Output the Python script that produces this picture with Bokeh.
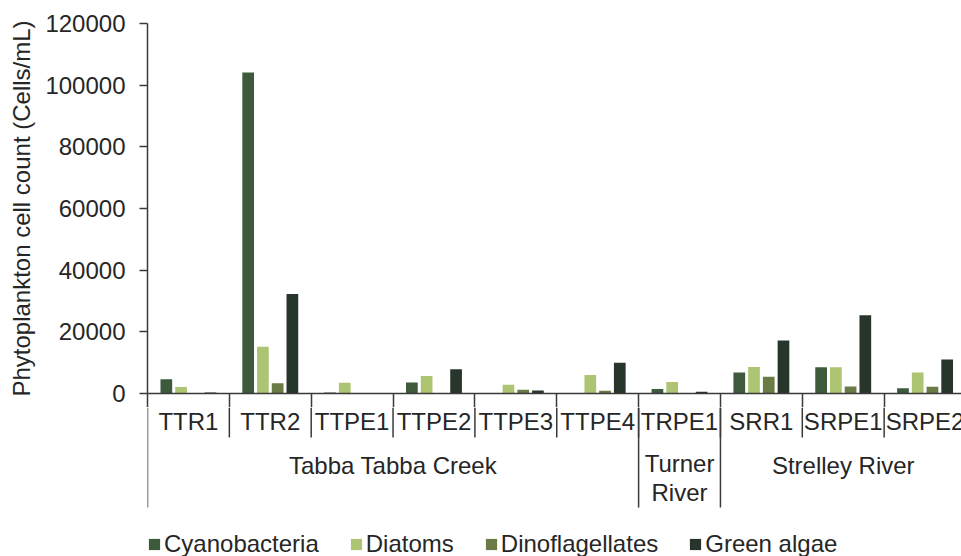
import math
from bokeh.plotting import figure
from bokeh.layouts import column
from bokeh.models import (ColumnDataSource, Range1d, FixedTicker, NumeralTickFormatter,
                          Legend, LegendItem)
from bokeh.transform import dodge
from bokeh.core.properties import value
from bokeh.embed import file_html
from bokeh.resources import INLINE

# ---------------- data ----------------
sites = ["TTR1", "TTR2", "TTPE1", "TTPE2", "TTPE3", "TTPE4", "TRPE1", "SRR1", "SRPE1", "SRPE2"]
rivers = ["Tabba Tabba Creek"] * 6 + ["Turner River"] + ["Strelley River"] * 3
river_display = {"Tabba Tabba Creek": "Tabba Tabba Creek",
                 "Turner River": "Turner\nRiver",
                 "Strelley River": "Strelley River"}
series_names = ["Cyanobacteria", "Diatoms", "Dinoflagellates", "Green algae"]
cyanobacteria = [4600, 104100, 300, 3600, 0, 0, 1500, 6800, 8500, 1700]
diatoms = [2100, 15200, 3500, 5700, 2800, 6000, 3700, 8600, 8500, 6800]
dinoflagellates = [0, 3300, 0, 0, 1200, 900, 0, 5400, 2300, 2200]
green_algae = [300, 32300, 200, 7900, 1000, 10000, 600, 17200, 25400, 11000]
y_ticks = [0, 20000, 40000, 60000, 80000, 100000, 120000]
y_title = "Phytoplankton cell count (Cells/mL)"

# ---------------- style / layout ----------------
colors = ["#3d5a3d", "#adc472", "#6a7b45", "#28352a"]
offsets = [-0.27, -0.09, 0.09, 0.27]
bar_w = 0.143
FONT = "Liberation Sans"
FS = "24px"
TXT = "#262626"
AX = "#3a3a3a"

W = 961
FL = 147            # frame left (px)
CAT = 81.85         # px per category
TOP = 23            # px of 120000
ZERO = 393          # px of 0 (bottom of bar frame)
TICK = 14           # length of the category tick marks below the zero line
SPLIT = ZERO + TICK
H_TOP = SPLIT
H_BOT = 556 - SPLIT
x_end = (W - FL) / CAT
boundaries = list(range(0, len(sites) + 1))

# ---------------- bars panel ----------------
p = figure(width=W, height=H_TOP, output_backend="svg", toolbar_location=None,
           x_range=Range1d(0, x_end), y_range=Range1d(0, 120000),
           min_border_left=FL, min_border_right=0,
           min_border_top=TOP, min_border_bottom=TICK)
p.outline_line_color = None
p.xgrid.visible = False
p.ygrid.visible = False

src = ColumnDataSource(dict(x=[i + 0.5 for i in range(len(sites))],
                            cyanobacteria=cyanobacteria, diatoms=diatoms,
                            dinoflagellates=dinoflagellates, green_algae=green_algae))
cols = ["cyanobacteria", "diatoms", "dinoflagellates", "green_algae"]
for col, off, c in zip(cols, offsets, colors):
    p.vbar(x=dodge("x", off), top=col, width=bar_w, bottom=0, source=src,
           fill_color=c, line_color=None)

# category tick marks along the zero line (no labels: labels are drawn below)
xa = p.xaxis[0]
xa.ticker = FixedTicker(ticks=boundaries)
xa.axis_line_color = AX
xa.axis_line_width = 1.5
xa.major_tick_line_color = AX
xa.major_tick_line_width = 1.5
xa.major_tick_out = TICK
xa.major_tick_in = 0
xa.minor_tick_line_color = None
xa.major_label_text_font_size = "0px"
xa.major_label_text_color = None
xa.major_label_standoff = 0

ax = p.yaxis[0]
ax.ticker = FixedTicker(ticks=y_ticks)
ax.formatter = NumeralTickFormatter(format="0")
ax.major_label_text_font = FONT
ax.major_label_text_font_size = FS
ax.major_label_text_color = TXT
ax.axis_line_color = AX
ax.axis_line_width = 1.5
ax.major_tick_line_color = AX
ax.major_tick_line_width = 1.5
ax.major_tick_out = 8
ax.major_tick_in = 0
ax.minor_tick_line_color = None
ax.major_label_standoff = 14
ax.axis_label = y_title
ax.axis_label_text_font = FONT
ax.axis_label_text_font_size = FS
ax.axis_label_text_font_style = "normal"
ax.axis_label_text_color = TXT
ax.axis_label_standoff = 7

# ---------------- category panel ----------------
q = figure(width=W, height=H_BOT, output_backend="svg", toolbar_location=None,
           x_range=p.x_range, y_range=Range1d(-H_BOT, 0),
           x_axis_location=None, y_axis_location=None,
           min_border_left=FL, min_border_right=0, min_border_top=0, min_border_bottom=0)
q.outline_line_color = None
q.xgrid.visible = False
q.ygrid.visible = False

y_sep1 = -(437 - SPLIT)
y_sep2 = -(507 - SPLIT)
y_cat = -(421 - SPLIT)
y_grp = -(464.5 - SPLIT)
line_h = 1.08

b1 = boundaries[1:-1]
q.segment(x0=b1, x1=b1, y0=[0] * len(b1), y1=[y_sep1] * len(b1), line_color=AX, line_width=1.5)
gb = [0] + [i for i in range(1, len(sites)) if rivers[i] != rivers[i - 1]]
q.segment(x0=gb, x1=gb, y0=[0] * len(gb), y1=[y_sep2] * len(gb), line_color=AX, line_width=1.5)

q.text(x=[i + 0.5 for i in range(len(sites))], y=[y_cat] * len(sites), text=sites,
       text_align="center", text_baseline="middle", text_font=value(FONT),
       text_font_size=FS, text_color=TXT)

groups = []
for i, r in enumerate(rivers):
    if not groups or groups[-1][0] != r:
        groups.append([r, i, i])
    else:
        groups[-1][2] = i
gx = [(g[1] + g[2] + 1) / 2 for g in groups]
gt = [river_display[g[0]] for g in groups]
gy = [y_grp - (t.count("\n")) * 24 * line_h / 2 for t in gt]
q.text(x=gx, y=gy, text=gt, text_align="center", text_baseline="middle",
       text_font=value(FONT), text_font_size=FS, text_color=TXT, text_line_height=line_h)

# legend swatches: one off-screen, zero-height bar per series carries its colour
leg_r = [q.vbar(x=[-5], top=[0], bottom=[0], width=bar_w, fill_color=c, line_color=None)
         for c in colors]
legend = Legend(items=[LegendItem(label=n, renderers=[r], index=0)
                       for n, r in zip(series_names, leg_r)],
                orientation="horizontal", location=(0, -2), glyph_width=14, glyph_height=14,
                label_standoff=3, spacing=30, padding=0, margin=0,
                label_text_font=FONT, label_text_font_size=FS, label_text_color=TXT,
                border_line_color=None, background_fill_alpha=0)
q.add_layout(legend, "center")

page = column(p, q, spacing=0)
open("out.html", "w").write(file_html(page, INLINE))
